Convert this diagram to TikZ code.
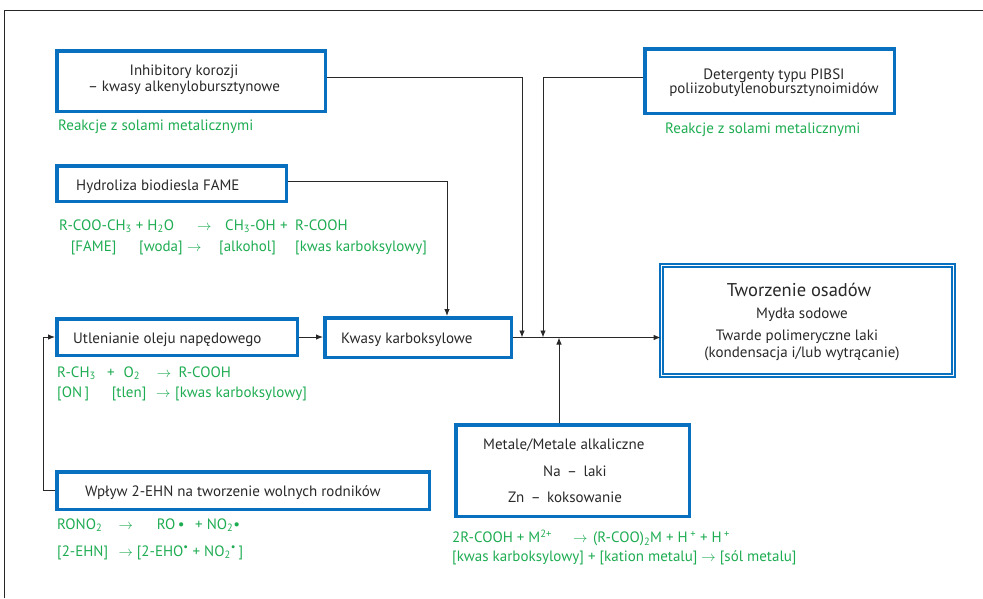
\documentclass[tikz,border=0pt]{standalone}
\usepackage{fontspec}
\setmainfont{PT Sans}
\usetikzlibrary{arrows.meta}

\definecolor{boxblue}{RGB}{8,112,190}
\definecolor{eqgreen}{RGB}{30,172,82}
\definecolor{ink}{RGB}{40,40,40}

\tikzset{
  box/.style={draw=boxblue, line width=3.5pt, rectangle, inner sep=0pt},
  dbox/.style={draw=boxblue, double=white, double distance=1.3pt, line width=1.8pt, rectangle, inner sep=0pt},
  lbl/.style={text=ink, font=\fontsize{15}{17}\selectfont, inner sep=0pt},
  eq/.style={text=eqgreen, font=\fontsize{15}{17}\selectfont, inner sep=0pt, anchor=base west},
  conn/.style={draw=ink, line width=0.9pt},
  arr/.style={conn, -{Latex[length=7pt,width=5.5pt]}},
}

\begin{document}
\begin{tikzpicture}[x=1pt,y=-1pt]
\useasboundingbox (0,0) rectangle (983,598);

% page frame (top and left rules)
\draw[line width=1pt, black!85] (4.5,598) -- (4.5,10) -- (983,10);

% boxes
\node[box, minimum width=268.5pt, minimum height=60.5pt] (inh) at (191,81) {};
\node[box, minimum width=249.5pt, minimum height=64.5pt] (det) at (769.5,81) {};
\node[box, minimum width=229.5pt, minimum height=35.5pt] (hyd) at (171.5,183.5) {};
\node[box, minimum width=240.5pt, minimum height=36.5pt] (ut) at (177,337) {};
\node[box, minimum width=186.5pt, minimum height=39.5pt] (kw) at (418,337.5) {};
\node[box, minimum width=372.5pt, minimum height=37.5pt] (wp) at (243,490.5) {};
\node[box, minimum width=233.5pt, minimum height=91.5pt] (met) at (572.5,470.5) {};
\node[dbox, minimum width=292pt, minimum height=110pt] (tw) at (807.5,320.5) {};

% box texts
\node[lbl, anchor=base] (inh1) at (184,75) {Inhibitory korozji};
\node[lbl, anchor=base] (inh2) at (184,91.7) {– kwasy alkenylobursztynowe};
\node[lbl, anchor=base] (det1) at (774,79.3) {Detergenty typu PIBSI};
\node[lbl, anchor=base] (det2) at (774,93.3) {poliizobutylenobursztynoimidów};
\node[lbl, anchor=base west] (hyd1) at (76,190) {Hydroliza biodiesla FAME};
\node[lbl, anchor=base west] (ut1) at (73,343.3) {Utlenianie oleju napędowego};
\node[lbl, anchor=base west] (kw1) at (341,343.3) {Kwasy karboksylowe};
\node[lbl, anchor=base west] (wp1) at (85,496) {Wpływ 2-EHN na tworzenie wolnych rodników};
\node[lbl, anchor=base west] (met1) at (483,449.3) {Metale/Metale alkaliczne};
\node[lbl, anchor=base west] (met2) at (543,476.7) {Na \,–\, laki};
\node[lbl, anchor=base west] (met3) at (508,502.7) {Zn \,–\, koksowanie};
\node[lbl, anchor=base, font=\fontsize{18.5}{20}\selectfont] (tw1) at (799,296) {Tworzenie osadów};
\node[lbl, anchor=base] (tw2) at (802,318.3) {Mydła sodowe};
\node[lbl, anchor=base] (tw3) at (797,340) {Twarde polimeryczne laki};
\node[lbl, anchor=base] (tw4) at (802,357.3) {(kondensacja i/lub wytrącanie)};

% green notes and equations
\node[eq] (inhR) at (58,130.5) {Reakcje z solami metalicznymi};
\node[eq] (detR) at (665,133.5) {Reakcje z solami metalicznymi};

\node[eq] (h1a) at (59,230) {R-COO-CH\textsubscript{3} + H\textsubscript{2}O};
\node[eq] (h1b) at (197,230) {$\rightarrow$};
\node[eq] (h1c) at (225,230) {CH\textsubscript{3}-OH};
\node[eq] (h1d) at (280,230) {+};
\node[eq] (h1e) at (295,230) {R-COOH};
\node[eq] (h2a) at (70.7,251) {[FAME]};
\node[eq] (h2b) at (139,251) {[woda]};
\node[eq] (h2c) at (187,251) {$\rightarrow$};
\node[eq] (h2d) at (219,251) {[alkohol]};
\node[eq] (h2e) at (295,251) {[kwas karboksylowy]};

\node[eq] (u1a) at (57,377) {R-CH\textsubscript{3}};
\node[eq] (u1b) at (107,377) {+};
\node[eq] (u1c) at (123.3,377) {O\textsubscript{2}};
\node[eq] (u1d) at (156.7,377) {$\rightarrow$};
\node[eq] (u1e) at (178.3,377) {R-COOH};
\node[eq] (u2a) at (57,397) {[ON\,]};
\node[eq] (u2b) at (111.7,397) {[tlen]};
\node[eq] (u2c) at (156,397) {$\rightarrow$};
\node[eq] (u2d) at (175,397) {[kwas karboksylowy]};

\node[eq] (w1a) at (57,529) {RONO\textsubscript{2}};
\node[eq] (w1b) at (118.3,529) {$\rightarrow$};
\node[eq] (w1c) at (156.7,529) {RO\,•};
\node[eq] (w1d) at (195,529) {+ NO\textsubscript{2}•};
\node[eq] (w2a) at (57,556) {[2-EHN]};
\node[eq] (w2b) at (118.3,556) {$\rightarrow$};
\node[eq] (w2c) at (136.7,556) {[2-EHO\textsuperscript{•} + NO\textsubscript{2}\textsuperscript{•}\,]};

\node[eq] (m1a) at (452,542.7) {2R-COOH + M\textsuperscript{2+}};
\node[eq] (m1b) at (573,542.7) {$\rightarrow$};
\node[eq] (m1c) at (593,542.7) {(R-COO)\textsubscript{2}M + H\,\textsuperscript{+} + H\,\textsuperscript{+}};
\node[eq] (m2a) at (452,561.7) {[kwas karboksylowy] + [kation metalu] $\rightarrow$ [sól metalu]};

% junctions on the main line
\coordinate (jA) at (522,337.5);
\coordinate (jB) at (543,337.5);
\coordinate (jC) at (559,337.5);

% connectors
\draw[arr] ([yshift=4pt]inh.east) -| (jA);
\draw[arr] ([yshift=4pt]det.west) -| (jB);
\draw[arr] ([yshift=2.5pt]hyd.east) -| ([xshift=29pt]kw.north);
\draw[arr] (ut.east) -- (ut.east -| kw.west);
\draw[arr] (kw.east) -- (kw.east -| tw.west);
\draw[arr] ([xshift=-13.5pt]met.north) -- (jC);
\draw[arr] (wp.west) -- ++(-12,0) |- (ut.west);

\end{tikzpicture}
\end{document}
